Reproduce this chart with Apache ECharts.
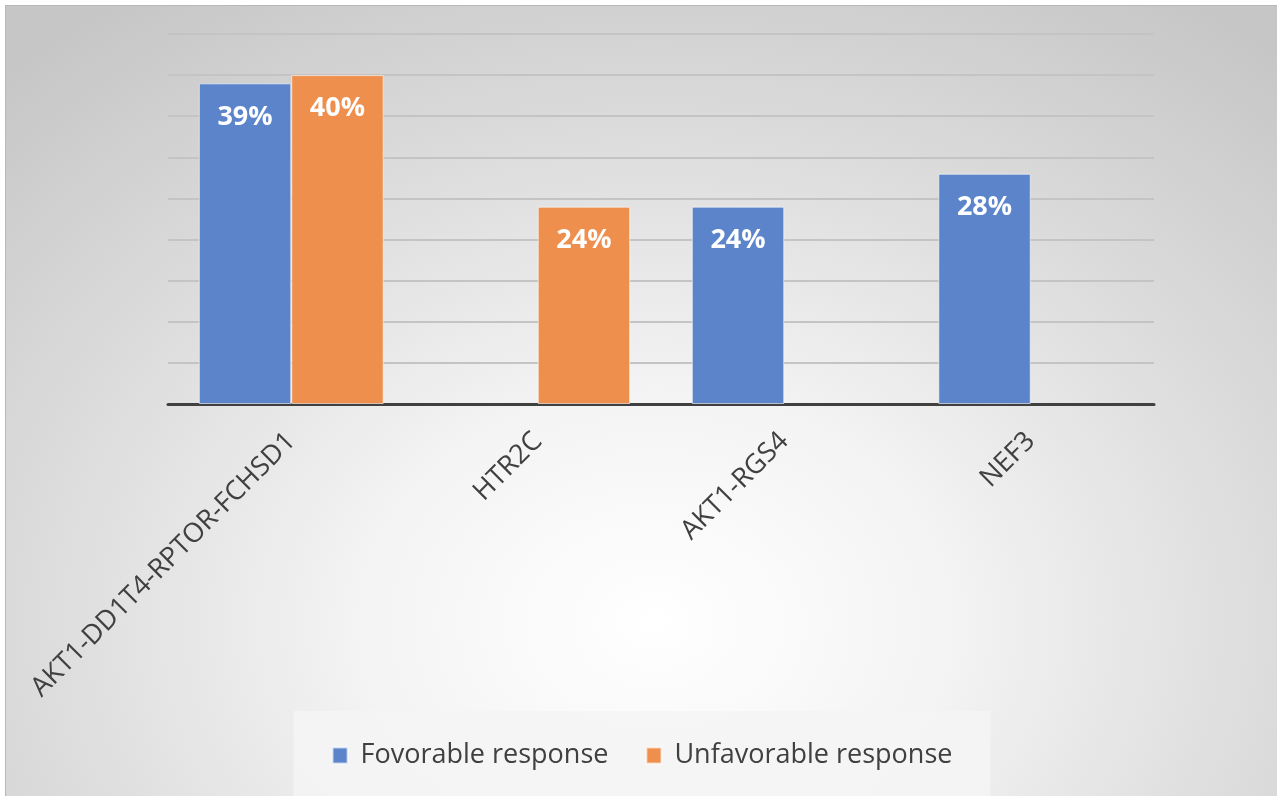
<!DOCTYPE html>
<html>
<head>
<meta charset="utf-8">
<script src="https://cdn.jsdelivr.net/npm/echarts@6/dist/echarts.min.js"></script>
<style>
  html, body { margin: 0; padding: 0; background: #fff; }
  #chart {
    position: absolute; left: 5px; top: 5px; width: 1272px; height: 791px;
    border-left: 1px solid #b8b8b8; border-top: 1px solid #b8b8b8;
    background: radial-gradient(ellipse 75% 95% at 51% 78%, #ffffff 0%, #f4f4f4 30%, #dcdcdc 65%, #c6c6c6 100%);
  }
</style>
</head>
<body>
<div id="chart"></div>
<script>
// genes / variants on the x axis
const categories = ['AKT1-DD1T4-RPTOR-FCHSD1', 'HTR2C', 'AKT1-RGS4', 'NEF3']
const favorable = [39, '-', 24, 28]
const unfavorable = [40, 24, '-', '-']
const seriesNames = ['Fovorable response', 'Unfavorable response']

const chart = echarts.init(document.getElementById('chart'))

const label = {
  show: true,
  position: 'insideTop',
  distance: 20,
  color: '#fff',
  fontSize: 27,
  fontWeight: 'bold',
  fontFamily: 'Open Sans',
  formatter: '{c}%'
}

chart.setOption({
  backgroundColor: 'transparent',
  textStyle: { fontFamily: 'Open Sans' },
  grid: {
    top: 28,
    left: 162,
    right: 124,
    bottom: 393
  },
  legend: {
    bottom: -24,
    left: 'center',
    padding: [31, 38, 52, 38],
    backgroundColor: 'rgba(244,244,244,0.85)',
    itemWidth: 15,
    itemHeight: 16,
    itemGap: 37,
    icon: 'rect',
    textStyle: { fontSize: 27, color: '#404040', fontFamily: 'Open Sans', padding: [0, 0, 0, 8] },
    data: seriesNames
  },
  xAxis: {
    type: 'category',
    data: categories,
    axisLine: { lineStyle: { color: '#404040', width: 3 } },
    axisTick: { show: false },
    axisLabel: {
      rotate: 45,
      margin: 33,
      fontSize: 27,
      color: '#404040',
      fontFamily: 'Open Sans',
      interval: 0
    }
  },
  yAxis: {
    type: 'value',
    min: 0,
    max: 45,
    interval: 5,
    axisLabel: { show: false },
    axisLine: { show: false },
    axisTick: { show: false },
    splitLine: { lineStyle: { color: '#c4c4c4', width: 2 } }
  },
  series: [{
    name: seriesNames[0],
    type: 'bar',
    data: favorable,
    barGap: '0%',
    barCategoryGap: '25%',
    itemStyle: { color: '#5b84cb', borderColor: 'rgba(255,255,255,0.6)', borderWidth: 1 },
    label: label
  }, {
    name: seriesNames[1],
    type: 'bar',
    data: unfavorable,
    itemStyle: { color: '#ef8f4e', borderColor: 'rgba(255,255,255,0.6)', borderWidth: 1 },
    label: label
  }]
})
</script>
</body>
</html>
